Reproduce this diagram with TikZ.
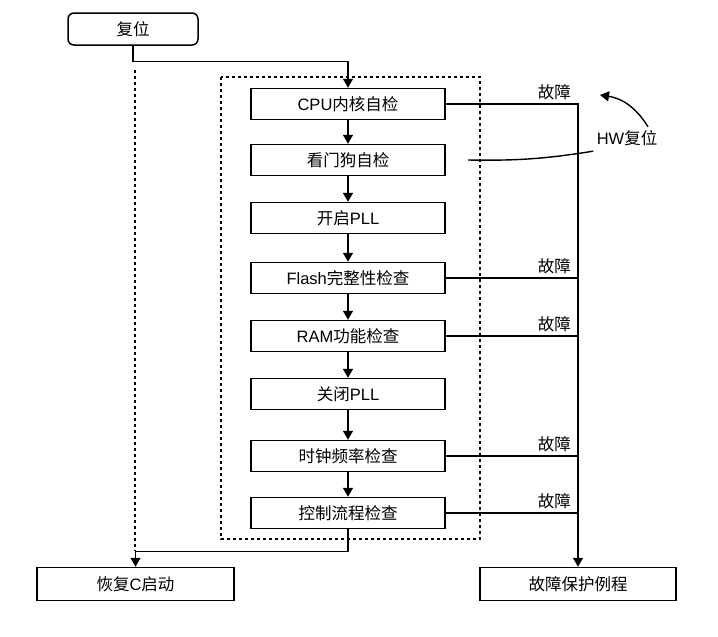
\documentclass[tikz,border=0pt]{standalone}
\usepackage{fontspec}
\setmainfont{Liberation Sans}
\newfontfamily\cjk{Noto Sans CJK SC}
\usetikzlibrary{arrows.meta}
\begin{document}
\begin{tikzpicture}[x=1pt,y=-1pt,font=\fontsize{16.5}{19}\selectfont,
    box/.style={draw,line width=1.5pt,minimum width=194pt,minimum height=31pt,inner sep=0pt},
    flow/.style={line width=1.4pt,-{Triangle[length=9pt,width=10pt]}},
    wire/.style={line width=1.4pt},
    dots/.style={line width=1.4pt,dash pattern=on 3pt off 3pt},
    fault/.style={anchor=south east,xshift=-3pt,inner sep=3.5pt}]
    \useasboundingbox (0,0) rectangle (718,637);
    \draw[dots] (221,77) rectangle (480,539);
    \node[box,rounded corners=6pt,minimum width=130pt,minimum height=32pt] (reset) at (133,29) {\cjk 复位};
    \node[box] (cpu) at (348,104) {CPU{\cjk 内核自检}};
    \node[box] (dog) at (348,160) {\cjk 看门狗自检};
    \node[box] (pllon) at (348,218) {{\cjk 开启}PLL};
    \node[box] (flash) at (348,278) {Flash{\cjk 完整性检查}};
    \node[box] (ram) at (348,336) {RAM{\cjk 功能检查}};
    \node[box] (plloff) at (348,394) {{\cjk 关闭}PLL};
    \node[box] (clk) at (348,456) {\cjk 时钟频率检查};
    \node[box] (ctrl) at (348,513) {\cjk 控制流程检查};
    \node[box,minimum width=197pt,minimum height=33pt] (restore) at (135.5,584) {{\cjk 恢复}C{\cjk 启动}};
    \node[box,minimum width=196pt,minimum height=33pt] (safe) at (578,584) {\cjk 故障保护例程};
    \node (hw) at (627,138) {HW{\cjk 复位}};
    \coordinate (dtop) at (135,70);
    \coordinate (hwtail) at (468,160);
    \coordinate (hwtip) at (600,95);
    % main chain
    \draw[flow] (reset.south) -- ++(0,16) -| (cpu.north);
    \foreach \a/\b in {cpu/dog,dog/pllon,pllon/flash,flash/ram,ram/plloff,plloff/clk,clk/ctrl}
        \draw[flow] (\a) -- (\b);
    \draw[flow] (ctrl.south) -- ++(0,22) coordinate (turn) -| (restore.north);
    \draw[dots] (dtop) -- (dtop |- turn);
    % fault exits
    \draw[flow] (cpu.east) -| node[pos=0.5,fault] {\cjk 故障} (safe.north);
    \foreach \n in {flash,ram,clk,ctrl}
        \draw[wire] (\n.east) -- (\n.east -| safe.north) node[fault] {\cjk 故障};
    % hardware reset
    \draw[wire] (hwtail) to[bend right=5] ([yshift=-2pt]hw.south west);
    \draw[flow] ([xshift=21pt]hw.north) to[bend right=25] (hwtip);
\end{tikzpicture}
\end{document}
